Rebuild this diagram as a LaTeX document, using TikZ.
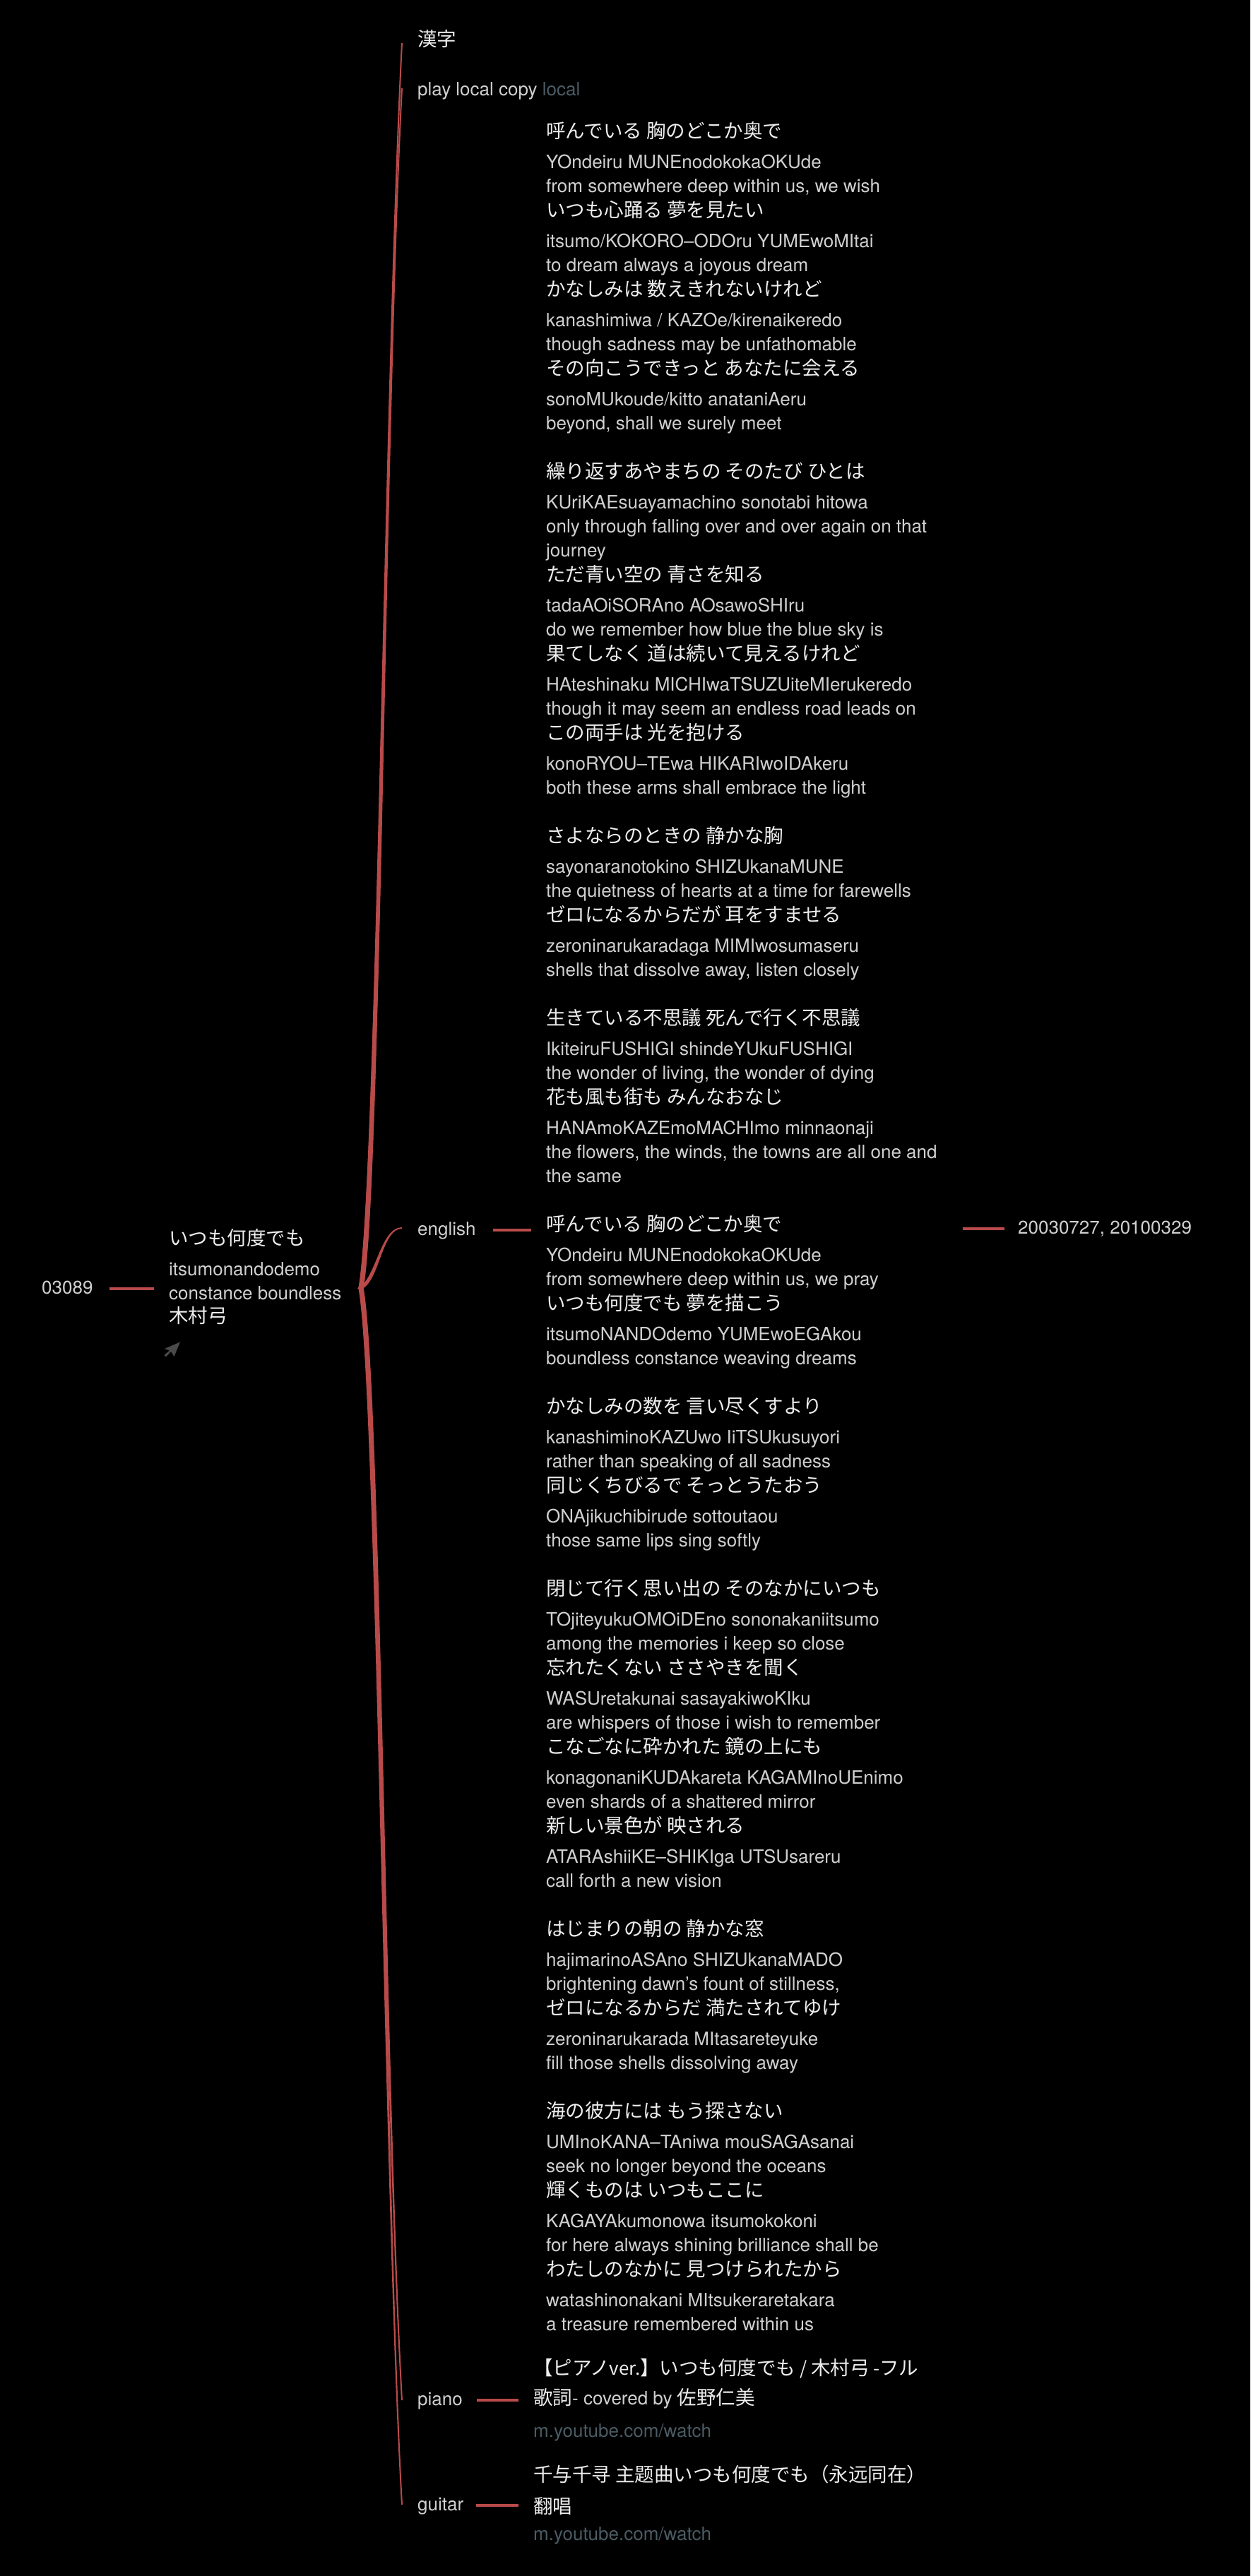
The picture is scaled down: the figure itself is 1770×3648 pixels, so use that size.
\documentclass[tikz,border=0pt]{standalone}
\usepackage{fontspec}
\setmainfont{TeX Gyre Heros}
\newfontfamily\jpfont{Noto Sans CJK JP}
\usepackage{tikz}

\definecolor{latgray}{HTML}{D0D0D0}
\definecolor{jpwhite}{HTML}{EDEDED}
\definecolor{urlgray}{HTML}{4B5C64}
\definecolor{branchred}{HTML}{B84A4A}
\definecolor{icongray}{HTML}{4A4A4A}
\newcommand\latsize{\fontsize{26pt}{30pt}\selectfont}
\newcommand\jpsize{\jpfont\fontsize{27.5pt}{30pt}\selectfont}

\begin{document}
\begin{tikzpicture}[x=1pt,y=-1pt,
    lat/.style={anchor=west, inner sep=0pt, text=latgray, font=\latsize, text height=15.6pt, text depth=0pt},
    jp/.style={anchor=west, inner sep=0pt, text=jpwhite, font=\jpsize, text height=20.8pt, text depth=0pt},
    url/.style={lat, text=urlgray},
    link/.style={draw=branchred, line width=4pt},
    branch/.style={fill=branchred, draw=branchred, line width=2pt}]
    \fill[black] (0,0) rectangle (1770,3648);
    \useasboundingbox (0,0) rectangle (1770,3648);

    \node[lat] (Root) at (59,1825) {03089};
    \node[jp] (TitleJa) at (239,1753) {いつも何度でも};
    \node[lat] (TitleRo) at (239,1799) {itsumonandodemo};
    \node[lat] (TitleEn) at (239,1833) {constance boundless};
    \node[jp] (Artist) at (239,1863) {木村弓};
    \fill[icongray] (255,1900.5) -- (233,1910) -- (240,1912.5) -- (232.5,1919) -- (235,1921.5) -- (242,1914) -- (246.5,1921) -- cycle;

    \coordinate (Hub) at (511,1824);

    \node[jp] (Kanji) at (591,55) {漢字};
    \node[lat] (Play) at (591,128) {play local copy {\color{urlgray}local}};
    \node[lat] (English) at (591,1742) {english};
    \node[lat] (Piano) at (591,3399) {piano};
    \node[lat] (Guitar) at (591,3548) {guitar};

    \node[jp] (K1j) at (773,185) {呼んでいる 胸のどこか奥で};
    \node[lat] (K1r) at (773,231) {YOndeiru MUNEnodokokaOKUde};
    \node[lat] (K1e) at (773,265) {from somewhere deep within us, we wish};
    \node[jp] (K2j) at (773,297) {いつも心踊る 夢を見たい};
    \node[lat] (K2r) at (773,343) {itsumo/KOKORO--ODOru YUMEwoMItai};
    \node[lat] (K2e) at (773,377) {to dream always a joyous dream};
    \node[jp] (K3j) at (773,409) {かなしみは 数えきれないけれど};
    \node[lat] (K3r) at (773,455) {kanashimiwa / KAZOe/kirenaikeredo};
    \node[lat] (K3e) at (773,489) {though sadness may be unfathomable};
    \node[jp] (K4j) at (773,521) {その向こうできっと あなたに会える};
    \node[lat] (K4r) at (773,567) {sonoMUkoude/kitto anataniAeru};
    \node[lat] (K4e) at (773,601) {beyond, shall we surely meet};

    \node[jp] (K5j) at (773,667) {繰り返すあやまちの そのたび ひとは};
    \node[lat] (K5r) at (773,713) {KUriKAEsuayamachino sonotabi hitowa};
    \node[lat] (K5e) at (773,747) {only through falling over and over again on that};
    \node[lat] (K5f) at (773,781) {journey};
    \node[jp] (K6j) at (773,813) {ただ青い空の 青さを知る};
    \node[lat] (K6r) at (773,859) {tadaAOiSORAno AOsawoSHIru};
    \node[lat] (K6e) at (773,893) {do we remember how blue the blue sky is};
    \node[jp] (K7j) at (773,925) {果てしなく 道は続いて見えるけれど};
    \node[lat] (K7r) at (773,971) {HAteshinaku MICHIwaTSUZUiteMIerukeredo};
    \node[lat] (K7e) at (773,1005) {though it may seem an endless road leads on};
    \node[jp] (K8j) at (773,1037) {この両手は 光を抱ける};
    \node[lat] (K8r) at (773,1083) {konoRYOU--TEwa HIKARIwoIDAkeru};
    \node[lat] (K8e) at (773,1117) {both these arms shall embrace the light};

    \node[jp] (K9j) at (773,1183) {さよならのときの 静かな胸};
    \node[lat] (K9r) at (773,1229) {sayonaranotokino SHIZUkanaMUNE};
    \node[lat] (K9e) at (773,1263) {the quietness of hearts at a time for farewells};
    \node[jp] (K10j) at (773,1295) {ゼロになるからだが 耳をすませる};
    \node[lat] (K10r) at (773,1341) {zeroninarukaradaga MIMIwosumaseru};
    \node[lat] (K10e) at (773,1375) {shells that dissolve away, listen closely};

    \node[jp] (K11j) at (773,1441) {生きている不思議 死んで行く不思議};
    \node[lat] (K11r) at (773,1487) {IkiteiruFUSHIGI shindeYUkuFUSHIGI};
    \node[lat] (K11e) at (773,1521) {the wonder of living, the wonder of dying};
    \node[jp] (K12j) at (773,1553) {花も風も街も みんなおなじ};
    \node[lat] (K12r) at (773,1599) {HANAmoKAZEmoMACHImo minnaonaji};
    \node[lat] (K12e) at (773,1633) {the flowers, the winds, the towns are all one and};
    \node[lat] (K12f) at (773,1667) {the same};

    \node[jp] (E1j) at (773,1733) {呼んでいる 胸のどこか奥で};
    \node[lat] (E1r) at (773,1779) {YOndeiru MUNEnodokokaOKUde};
    \node[lat] (E1e) at (773,1813) {from somewhere deep within us, we pray};
    \node[jp] (E2j) at (773,1845) {いつも何度でも 夢を描こう};
    \node[lat] (E2r) at (773,1891) {itsumoNANDOdemo YUMEwoEGAkou};
    \node[lat] (E2e) at (773,1925) {boundless constance weaving dreams};

    \node[jp] (E3j) at (773,1991) {かなしみの数を 言い尽くすより};
    \node[lat] (E3r) at (773,2037) {kanashiminoKAZUwo IiTSUkusuyori};
    \node[lat] (E3e) at (773,2071) {rather than speaking of all sadness};
    \node[jp] (E4j) at (773,2103) {同じくちびるで そっとうたおう};
    \node[lat] (E4r) at (773,2149) {ONAjikuchibirude sottoutaou};
    \node[lat] (E4e) at (773,2183) {those same lips sing softly};

    \node[jp] (E5j) at (773,2249) {閉じて行く思い出の そのなかにいつも};
    \node[lat] (E5r) at (773,2295) {TOjiteyukuOMOiDEno sononakaniitsumo};
    \node[lat] (E5e) at (773,2329) {among the memories i keep so close};
    \node[jp] (E6j) at (773,2361) {忘れたくない ささやきを聞く};
    \node[lat] (E6r) at (773,2407) {WASUretakunai sasayakiwoKIku};
    \node[lat] (E6e) at (773,2441) {are whispers of those i wish to remember};
    \node[jp] (E7j) at (773,2473) {こなごなに砕かれた 鏡の上にも};
    \node[lat] (E7r) at (773,2519) {konagonaniKUDAkareta KAGAMInoUEnimo};
    \node[lat] (E7e) at (773,2553) {even shards of a shattered mirror};
    \node[jp] (E8j) at (773,2585) {新しい景色が 映される};
    \node[lat] (E8r) at (773,2631) {ATARAshiiKE--SHIKIga UTSUsareru};
    \node[lat] (E8e) at (773,2665) {call forth a new vision};

    \node[jp] (E9j) at (773,2731) {はじまりの朝の 静かな窓};
    \node[lat] (E9r) at (773,2777) {hajimarinoASAno SHIZUkanaMADO};
    \node[lat] (E9e) at (773,2811) {brightening dawn’s fount of stillness,};
    \node[jp] (E10j) at (773,2843) {ゼロになるからだ 満たされてゆけ};
    \node[lat] (E10r) at (773,2889) {zeroninarukarada MItasareteyuke};
    \node[lat] (E10e) at (773,2923) {fill those shells dissolving away};

    \node[jp] (E11j) at (773,2989) {海の彼方には もう探さない};
    \node[lat] (E11r) at (773,3035) {UMInoKANA--TAniwa mouSAGAsanai};
    \node[lat] (E11e) at (773,3069) {seek no longer beyond the oceans};
    \node[jp] (E12j) at (773,3101) {輝くものは いつもここに};
    \node[lat] (E12r) at (773,3147) {KAGAYAkumonowa itsumokokoni};
    \node[lat] (E12e) at (773,3181) {for here always shining brilliance shall be};
    \node[jp] (E13j) at (773,3213) {わたしのなかに 見つけられたから};
    \node[lat] (E13r) at (773,3259) {watashinonakani MItsukeraretakara};
    \node[lat] (E13e) at (773,3293) {a treasure remembered within us};

    \node[lat] (Date) at (1441,1740) {20030727, 20100329};
    \coordinate (EngEdge) at (1363,1740);

    \node[jp] (P1) at (755,3353) {【ピアノ{\latsize ver.}】いつも何度でも{\latsize\ / }木村弓{\latsize\ -}フル};
    \node[lat] (P2) at (755,3398) {{\jpsize\color{jpwhite}歌詞}- covered by {\jpsize\color{jpwhite}佐野仁美}};
    \node[url] (P3) at (755,3444) {m.youtube.com/watch};
    \node[jp] (G1) at (755,3504) {千与千寻 主题曲いつも何度でも（永远同在）};
    \node[jp] (G2) at (755,3549) {翻唱};
    \node[url] (G3) at (755,3590) {m.youtube.com/watch};

    \coordinate (KanjiTip) at ([xshift=-22pt,yshift=-6pt]Kanji.west);
    \coordinate (PlayTip) at ([xshift=-22pt,yshift=3pt]Play.west);
    \coordinate (EnglishTip) at ([xshift=-22pt,yshift=3pt]English.west);
    \coordinate (PianoTip) at ([xshift=-22pt]Piano.west);
    \coordinate (GuitarTip) at ([xshift=-22pt,yshift=1pt]Guitar.west);

    \filldraw[branch] ([xshift=-2.5pt]Hub) .. controls +(25,-140) and +(-25,500) .. (KanjiTip)
        .. controls +(-25,500) and +(25,-140) .. ([xshift=2.5pt]Hub) -- cycle;
    \filldraw[branch] ([xshift=-2.5pt]Hub) .. controls +(25,-140) and +(-25,480) .. (PlayTip)
        .. controls +(-25,480) and +(25,-140) .. ([xshift=2.5pt]Hub) -- cycle;
    \filldraw[branch] ([xshift=-2pt]Hub) .. controls +(24,-14) and +(-29,0) .. (EnglishTip)
        .. controls +(-29,0) and +(24,-14) .. ([xshift=2pt]Hub) -- cycle;
    \filldraw[branch] ([xshift=-2.5pt]Hub) .. controls +(25,140) and +(-25,-450) .. (PianoTip)
        .. controls +(-25,-450) and +(25,140) .. ([xshift=2.5pt]Hub) -- cycle;
    \filldraw[branch] ([xshift=-2.5pt]Hub) .. controls +(25,140) and +(-25,-450) .. (GuitarTip)
        .. controls +(-25,-450) and +(25,140) .. ([xshift=2.5pt]Hub) -- cycle;

    \draw[link, shorten <=23pt, shorten >=21pt] (Root.east) -- (Root.east -| TitleRo.west);
    \draw[link, shorten <=24pt, shorten >=21pt] (English.east) -- (English.east -| E1j.west);
    \draw[link, shorten >=19pt] (EngEdge) -- (EngEdge -| Date.west);
    \draw[link, shorten <=20pt, shorten >=21pt] (Piano.east) -- (Piano.east -| P2.west);
    \draw[link, shorten <=18pt, shorten >=21pt] (Guitar.east) -- (Guitar.east -| G2.west);

\end{tikzpicture}
\end{document}
